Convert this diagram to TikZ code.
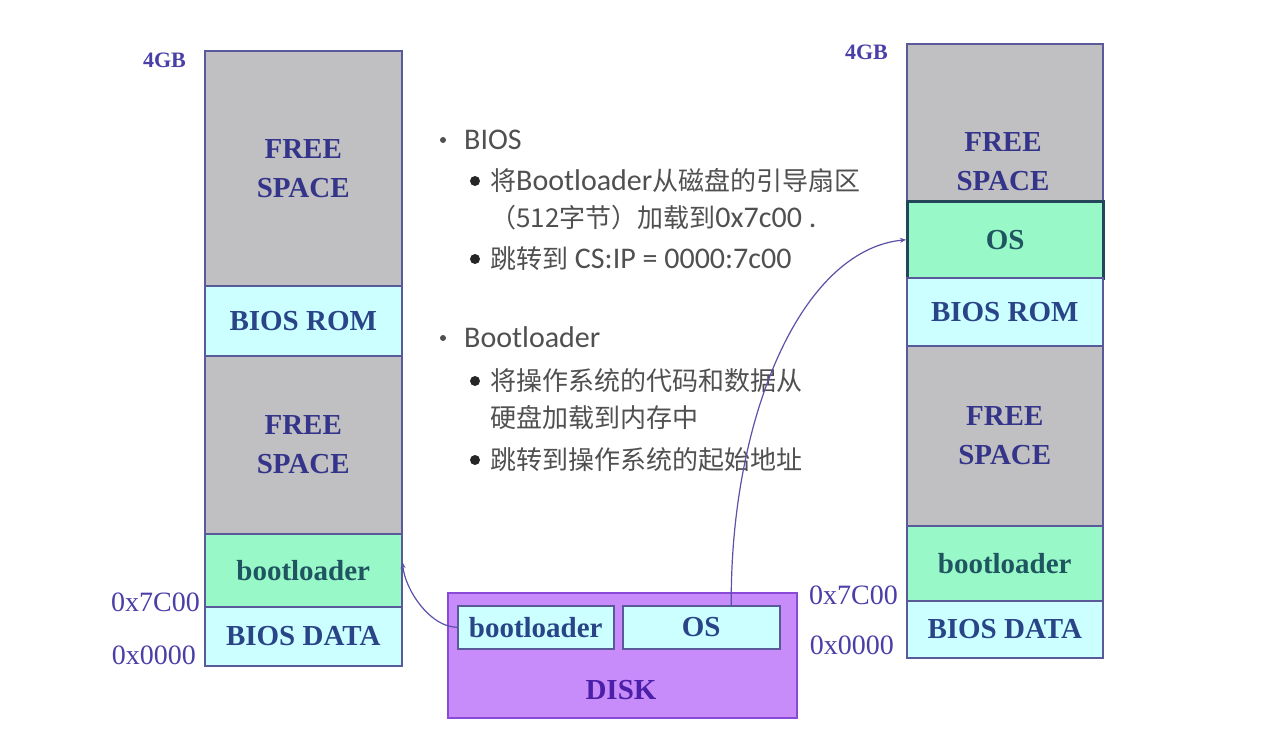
\documentclass[tikz,border=0pt]{standalone}
\usepackage{fontspec}
\setmainfont{Liberation Serif}
\newfontfamily\cjk{Noto Sans CJK SC}
\newfontfamily\calib{Carlito}
\usetikzlibrary{arrows.meta}
\definecolor{memline}{HTML}{5A5A9A}
\definecolor{freegray}{HTML}{C0BFC1}
\definecolor{romcyan}{HTML}{CCFFFF}
\definecolor{bootgreen}{HTML}{99F8C8}
\definecolor{diskpurple}{HTML}{C88CFA}
\definecolor{diskline}{HTML}{8A4AD8}
\definecolor{freetxt}{HTML}{34358A}
\definecolor{romtxt}{HTML}{2A4488}
\definecolor{greentxt}{HTML}{1F5560}
\definecolor{disktxt}{HTML}{4B1FA8}
\definecolor{addrtxt}{HTML}{4A3EA8}
\definecolor{bultxt}{HTML}{505050}
\definecolor{osline}{HTML}{24465A}
\definecolor{connc}{HTML}{5A52A8}
\newcommand\memfont{\fontsize{29}{39}\selectfont\bfseries}
\newcommand\zh[1]{{\cjk\fontsize{26}{30}\selectfont #1}}
\tikzset{
  mem/.style={draw=memline, line width=1.5pt, inner sep=0pt, anchor=north west,
    minimum width=197pt, font=\memfont, align=center},
  freebox/.style={mem, fill=freegray, text=freetxt},
  rombox/.style={mem, fill=romcyan, text=romtxt},
  greenbox/.style={mem, fill=bootgreen, text=greentxt},
  addr/.style={font=\fontsize{28}{30}\selectfont, text=addrtxt, inner sep=0pt, anchor=east},
  gb/.style={font=\fontsize{22}{24}\selectfont\bfseries, text=addrtxt, inner sep=0pt, anchor=east},
  bul/.style={font=\calib\fontsize{30}{36}\selectfont, text=bultxt, inner sep=0pt, anchor=base west},
  dotA/.style={circle, fill=bultxt, inner sep=0pt, minimum size=6pt},
  dotB/.style={circle, fill=black!85, inner sep=0pt, minimum size=10pt},
  conn/.style={draw=connc, line width=1.2pt, -{Stealth[length=6pt,width=5pt]}}
}
\begin{document}
\begin{tikzpicture}[x=1pt,y=-1pt]
\fill[white] (0,0) rectangle (1266,744);
\useasboundingbox (0,0) rectangle (1266,744);

% left memory column
\node[freebox, minimum height=235pt] (lfree1) at (204,50) {FREE\\SPACE};
\node[rombox, minimum height=70pt] (lrom) at (204,285) {BIOS ROM};
\node[freebox, minimum height=178pt] (lfree2) at (204,355) {FREE\\SPACE};
\node[greenbox, minimum height=73pt] (lboot) at (204,533) {bootloader};
\node[rombox, minimum height=59pt] (ldata) at (204,606) {BIOS DATA};
\node[gb] (l4gb) at (186,60) {4GB};
\node[addr] (l7c) at (200,602) {0x7C00};
\node[addr] (l00) at (196,655) {0x0000};

% right memory column
\node[freebox, minimum width=196pt, minimum height=157pt] (rfree1) at (906,43) {};
\node[font=\memfont, text=freetxt, align=center, inner sep=0pt] (rfree1t) at (1003,162) {FREE\\SPACE};
\node[greenbox, minimum width=196pt, minimum height=77pt, draw=osline, line width=2.5pt] (ros) at (906,200) {OS};
\node[rombox, minimum width=196pt, minimum height=68pt] (rrom) at (906,277) {BIOS ROM};
\node[freebox, minimum width=196pt, minimum height=180pt] (rfree2) at (906,345) {FREE\\SPACE};
\node[greenbox, minimum width=196pt, minimum height=75pt] (rboot) at (906,525) {bootloader};
\node[rombox, minimum width=196pt, minimum height=57pt] (rdata) at (906,600) {BIOS DATA};
\node[gb] (r4gb) at (888,52) {4GB};
\node[addr] (r7c) at (898,595) {0x7C00};
\node[addr] (r00) at (894,645) {0x0000};

% disk
\node[draw=diskline, fill=diskpurple, line width=1.5pt, inner sep=0pt, anchor=north west,
      minimum width=349pt, minimum height=125pt] (disk) at (447,592) {};
\node[font=\memfont, text=disktxt, inner sep=0pt] (disklbl) at (621,690) {DISK};
\node[rombox, minimum width=156pt, minimum height=43pt] (dboot) at (457,605) {bootloader};
\node[rombox, minimum width=157pt, minimum height=43pt] (dos) at (622,605) {OS};

% bullet text
\node[dotA] (b1) at (443,140) {};
\node[bul] (t1) at (464,149) {BIOS};
\node[dotB] (b11) at (475,181) {};
\node[bul] (t11) at (490,190) {\zh{将}Bootloader\zh{从磁盘的引导扇区}};
\node[bul] (t12) at (490,227) {\zh{（512字节）加载到}0x7c00 .};
\node[dotB] (b13) at (475,259) {};
\node[bul] (t13) at (490,268) {\zh{跳转到} CS:IP = 0000:7c00};
\node[dotA] (b2) at (443,338) {};
\node[bul] (t2) at (464,347) {Bootloader};
\node[dotB] (b21) at (475,381) {};
\node[bul] (t21) at (490,390) {\zh{将操作系统的代码和数据从}};
\node[bul] (t22) at (490,427) {\zh{硬盘加载到内存中}};
\node[dotB] (b23) at (475,460) {};
\node[bul] (t23) at (490,469) {\zh{跳转到操作系统的起始地址}};

% connectors
\draw[conn] (dboot.west) .. controls (430,627) and (405,590) .. ([yshift=8pt]lboot.east);
\draw[conn] ([xshift=30pt]dos.north) .. controls (730,420) and (800,250) .. (ros.west);
\end{tikzpicture}
\end{document}
